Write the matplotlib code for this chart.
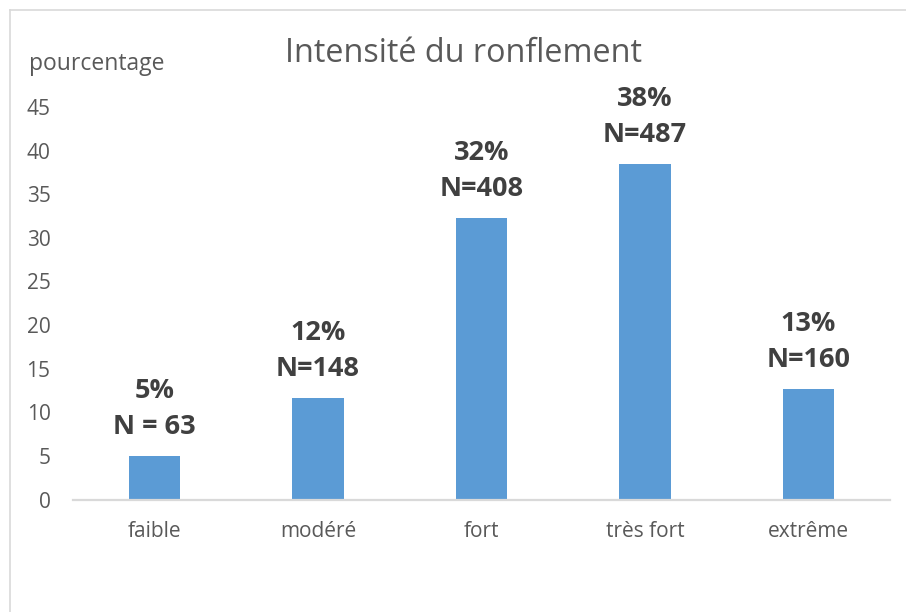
import matplotlib
matplotlib.use("Agg")
import matplotlib.pyplot as plt
from matplotlib.lines import Line2D

categories = ["faible", "modéré", "fort", "très fort", "extrême"]
values = [4.98, 11.69, 32.23, 38.47, 12.64]
pct_labels = ["5%", "12%", "32%", "38%", "13%"]
n_labels = ["N = 63", "N=148", "N=408", "N=487", "N=160"]
yticks = [0, 5, 10, 15, 20, 25, 30, 35, 40, 45]

plt.rcParams['font.family'] = ['Open Sans', 'DejaVu Sans']

W, H = 906, 612
fig = plt.figure(figsize=(W / 100, H / 100), dpi=100)
fig.patch.set_facecolor("white")

ax = fig.add_axes([72.75 / W, 1 - 499.5 / H, (890.25 - 72.75) / W, (499.5 - 107) / H])
x = list(range(len(categories)))
ax.bar(x, values, width=0.312, color="#5B9BD5", zorder=2)
ax.set_xlim(-0.5, len(categories) - 0.5)
ax.set_ylim(0, 45)
ax.set_yticks(yticks)
ax.set_yticklabels([str(t) for t in yticks])
ax.set_xticks(x)
ax.set_xticklabels(categories)
ax.tick_params(axis="both", length=0, labelsize=15, colors="#595959")
ax.tick_params(axis="y", pad=16)
ax.tick_params(axis="x", pad=15.5)
for s in ["top", "right", "left"]:
    ax.spines[s].set_visible(False)
ax.spines["bottom"].set_color("#D9D9D9")
ax.spines["bottom"].set_linewidth(1.6)
ax.spines["bottom"].set_zorder(3)

for xi, v, p, n in zip(x, values, pct_labels, n_labels):
    ax.annotate(n, (xi, v), xytext=(0, 16), textcoords="offset pixels",
                ha="center", va="bottom", fontsize=19.5, fontweight="bold",
                color="#404040", annotation_clip=False)
    ax.annotate(p, (xi, v), xytext=(0, 52), textcoords="offset pixels",
                ha="center", va="bottom", fontsize=19.5, fontweight="bold",
                color="#404040", annotation_clip=False)

fig.text(463.5 / W, 1 - 53 / H, "Intensité du ronflement", ha="center", va="center",
         fontsize=23.3, color="#595959")
fig.text(29 / W, 1 - 64 / H, "pourcentage", ha="left", va="center",
         fontsize=16.5, color="#595959")

# chart frame (partially visible)
fig.add_artist(Line2D([9.5 / W, 9.5 / W], [0, 1 - 9.5 / H], transform=fig.transFigure,
                      color="#D9D9D9", linewidth=1.2))
fig.add_artist(Line2D([9.5 / W, 1], [1 - 9.5 / H, 1 - 9.5 / H], transform=fig.transFigure,
                      color="#D9D9D9", linewidth=1.2))

fig.savefig("out.png", dpi=100, facecolor="white")
